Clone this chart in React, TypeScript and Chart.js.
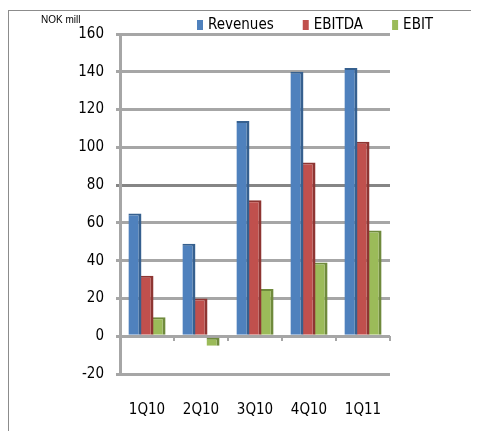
import { useEffect, useRef } from 'react';
import { Chart, registerables } from 'chart.js';

Chart.register(...registerables);

const categories = ['1Q10', '2Q10', '3Q10', '4Q10', '1Q11'];
const revenues = [65, 49, 114, 140, 142];
const ebitda = [32, 20, 72, 92, 103];
const ebit = [10, -5, 25, 39, 56];
const seriesNames = ['Revenues', 'EBITDA', 'EBIT'];
const yMin = -20;
const yMax = 160;
const yStep = 20;
const unitLabel = 'NOK mill';

const FONT = '"DejaVu Sans Condensed", "Liberation Sans", sans-serif';
const GRID = '#a6a6a6';

const legendPlugin = {
  id: 'topLegend',
  afterDraw(chart: any) {
    const ctx = chart.ctx;
    ctx.save();
    ctx.font = `15px ${FONT}`;
    ctx.textBaseline = 'middle';
    ctx.textAlign = 'left';
    let x = chart.chartArea.left + 77;
    const y = 14;
    chart.data.datasets.forEach((ds: any) => {
      ctx.fillStyle = ds.backgroundColor;
      ctx.fillRect(x, y - 5, 6, 10);
      x += 11;
      ctx.fillStyle = '#000';
      ctx.fillText(ds.label, x, y);
      x += ctx.measureText(ds.label).width + 29;
    });
    ctx.restore();
  },
};

export default function App() {
  const ref = useRef<HTMLCanvasElement | null>(null);

  useEffect(() => {
    if (!ref.current) return;
    const mk = (label: string, data: number[], bg: string, bd: string) => ({
      label,
      data,
      backgroundColor: bg,
      borderColor: bd,
      borderWidth: { top: 2, right: 3, left: 0, bottom: 0 },
      borderSkipped: false as any,
      categoryPercentage: 0.67,
      barPercentage: 1.08,
      xAxisID: 'x',
    });
    const chart = new Chart(ref.current, {
      type: 'bar',
      data: {
        labels: categories,
        datasets: [
          mk(seriesNames[0], revenues, '#4F81BD', '#36608f'),
          mk(seriesNames[1], ebitda, '#C0504D', '#8e3532'),
          mk(seriesNames[2], ebit, '#9BBB59', '#6f8a3c'),
        ],
      },
      options: {
        animation: false,
        responsive: true,
        maintainAspectRatio: false,
        layout: { padding: { left: 32, right: 89, top: 0, bottom: 0 } },
        plugins: {
          legend: { display: false },
          tooltip: { enabled: false },
          title: {
            display: true,
            text: unitLabel,
            align: 'start',
            color: '#000',
            font: { family: '"Liberation Sans", Arial, sans-serif', size: 10, weight: 'normal' },
            padding: { top: 3, bottom: 8 },
          },
        },
        scales: {
          x: {
            type: 'category',
            position: 'bottom',
            offset: true,
            grid: { display: false, drawTicks: false },
            border: { display: false },
            ticks: {
              color: '#000',
              font: { family: FONT, size: 15 },
              padding: 27,
            },
            afterFit: (s: any) => {
              s.height = 57;
            },
          },
          x2: {
            type: 'category',
            labels: categories,
            position: { y: 0 } as any,
            offset: true,
            grid: {
              offset: true,
              drawOnChartArea: false,
              drawTicks: true,
              tickLength: 5,
              color: GRID,
              lineWidth: 2,
            },
            border: { display: false },
            ticks: { display: false },
          },
          y: {
            min: yMin,
            max: yMax,
            ticks: {
              stepSize: yStep,
              color: '#000',
              font: { family: FONT, size: 15 },
              padding: 12,
            },
            grid: {
              color: (c: any) => (c.tick && c.tick.value === 80 ? '#858585' : GRID),
              lineWidth: 3,
              drawTicks: true,
              tickLength: 4,
            },
            border: { display: true, color: GRID, width: 3 },
            afterFit: (s: any) => {
              s.width = 79;
            },
          },
        },
      },
      plugins: [legendPlugin],
    });
    return () => chart.destroy();
  }, []);

  return (
    <div style={{ paddingTop: 2 }}>
      <div
        style={{
          width: 471,
          height: 421,
          boxSizing: 'border-box',
          borderLeft: '1px solid #8c8c8c',
          borderTop: '1px solid #8c8c8c',
        }}
      >
        <div style={{ position: 'relative', width: 470, height: 420 }}>
          <canvas ref={ref} />
        </div>
      </div>
    </div>
  );
}
